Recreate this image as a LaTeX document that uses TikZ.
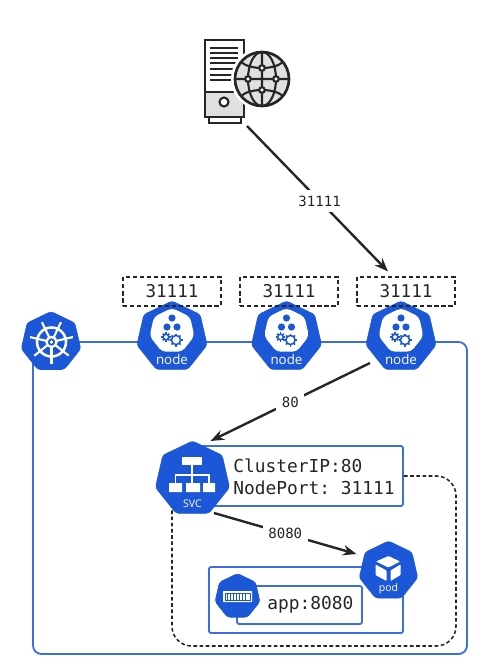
\documentclass[tikz,border=0pt]{standalone}
\usepackage{fontspec}
\setmainfont{Open Sans}
\setmonofont{DejaVu Sans Mono}
\usetikzlibrary{arrows.meta,positioning,calc,shapes.geometric,backgrounds}
\definecolor{kblue}{RGB}{27,87,214}
\definecolor{kline}{RGB}{62,108,226}
\definecolor{kink}{RGB}{38,38,38}
\definecolor{kgray}{RGB}{224,224,224}
\tikzset{
  hepta/.style={regular polygon, regular polygon sides=7, fill=kblue, draw=kblue, rounded corners=2pt, inner sep=0pt, outer sep=0pt},
  wblob/.style={regular polygon, regular polygon sides=7, fill=white, rounded corners=3pt, inner sep=0pt, minimum size=1.15cm},
  iclab/.style={font=\fontsize{9.5}{11}\selectfont, text=white, inner sep=0pt},
  portbox/.style={draw=kink, line width=0.9pt, dash pattern=on 3pt off 2pt, minimum width=2.45cm, minimum height=0.72cm, inner sep=0pt, font=\ttfamily\fontsize{12.5}{15}\selectfont, text=kink},
  bluebox/.style={draw=kline, line width=1.3pt, rounded corners=1.5pt, inner sep=0pt},
  klink/.style={kline, line width=1.3pt},
  farr/.style={-{Stealth[length=3.4mm,width=2.6mm]}, kink, line width=1.7pt},
  flab/.style={fill=white, inner sep=4pt, font=\ttfamily\fontsize{10}{12}\selectfont, text=kink},
  montxt/.style={font=\ttfamily\fontsize{12.7}{15.5}\selectfont, text=kink, inner sep=0pt},
  srvln/.style={kink, line width=1.5pt},
}
\newcommand{\gearic}[3]{%
  \foreach \a in {0,45,...,315} \draw[kblue, line width=1.2pt] (#1,#2) ++(\a:#3) -- ++(\a:1.9);
  \draw[kblue, fill=white, line width=1.1pt] (#1,#2) circle (#3);}
\newcommand{\nodeic}[2]{%
  \node[hepta, minimum size=1.8cm] (#1) at (#2,337) {};
  \begin{scope}[shift={(#2,337)}]
    \node[wblob] at (0,-6) {};
    \fill[kblue] (0,-19) circle (3.6) (-5,-10) circle (3.6) (5,-10) circle (3.6);
    \gearic{-6}{0}{2.8}
    \gearic{4}{3}{4.6}
    \node[iclab] (#1-lab) at (0,22) {node};
  \end{scope}}

\begin{document}
\begin{tikzpicture}[x=0.025cm,y=-0.025cm]
  \useasboundingbox (0,0) rectangle (488,671);

  % server with globe
  \coordinate (srv) at (247,126);
  \draw[srvln, fill=white] (205,40) rectangle (244,117);
  \fill[kgray] (205,92) rectangle (244,117);
  \draw[srvln] (205,92) -- (244,92) (205,40) rectangle (244,117);
  \draw[srvln, fill=white] (224,102) circle (4.5);
  \draw[srvln] (209,117) -- (209,123) -- (241,123) -- (241,117);
  \foreach \yy in {48,53,58,63,69,75,80} \draw[srvln] (210,\yy) -- (238,\yy);
  \fill[white] (262,79) circle (31);
  \draw[srvln, fill=kgray, line width=1.9pt] (262,79) circle (27);
  \draw[srvln] (235,79) -- (289,79) (262,52) -- (262,106) (262,79) ellipse (14 and 27);
  \draw[srvln] (241,62) .. controls (250,70) and (274,70) .. (283,62);
  \draw[srvln] (241,96) .. controls (250,88) and (274,88) .. (283,96);
  \foreach \px/\py in {262/68,248/79,276/79,262/90} \draw[srvln, fill=white] (\px,\py) circle (2.8);

  % cluster row
  \node[hepta, minimum size=1.525cm] (k8s) at (51,342) {};
  \draw[white, line width=1.8pt] (51.5,342) circle (14.5);
  \draw[white, line width=1.6pt] (51.5,342) circle (5);
  \fill[white] (51.5,342) circle (1.8);
  \foreach \a in {90,141.4,...,450} \draw[white, line width=1.5pt] (51.5,342) ++(\a:5) -- ++(\a:17);
  \nodeic{node1}{172}
  \nodeic{node2}{286.5}
  \nodeic{node3}{401}
  \node[portbox] (port1) at (172,291.5) {31111};
  \node[portbox] (port2) at (289,291.5) {31111};
  \node[portbox] (port3) at (406,291.5) {31111};

  % service
  \node[hepta, minimum size=1.9cm] (svc) at (192.5,479) {};
  \begin{scope}[shift={(192.5,479)}]
    \fill[white] (-10.5,-22) rectangle (9.5,-14);
    \fill[white] (-23.5,4) rectangle (-10.5,13) (-6.5,4) rectangle (7.5,13) (10.5,4) rectangle (22.5,13);
    \draw[white, line width=0.9pt] (-0.5,-14) -- (-0.5,4) (-17,4) -- (-17,-4) -- (16.5,-4) -- (16.5,4);
    \node[iclab, font=\fontsize{7.5}{9}\selectfont] (svc-lab) at (0,24.5) {SVC};
  \end{scope}
  \node[montxt, align=left, anchor=west] (svctxt) at (233,477) {ClusterIP:80\\NodePort: 31111};

  % pod
  \node[hepta, minimum size=1.5cm] (pod) at (388.5,571) {};
  \begin{scope}[shift={(388.5,571)}]
    \fill[white, rounded corners=0.5pt] (0,-15) -- (11.5,-9.5) -- (0,-3.5) -- (-12.5,-9.5) -- cycle;
    \fill[white, rounded corners=0.5pt] (-13,-6.5) -- (-2,-0.5) -- (-2,10) -- (-13,4) -- cycle;
    \fill[white, rounded corners=0.5pt] (12,-6.5) -- (2,-0.5) -- (2,10) -- (12,4) -- cycle;
    \node[iclab, font=\fontsize{7.5}{9}\selectfont] (pod-lab) at (0,18) {pod};
  \end{scope}
  \node[hepta, minimum size=1.15cm] (ctr) at (237.5,596.5) {};
  \fill[white, rounded corners=0.5pt] (223,591) rectangle (252,602);
  \draw[kblue, line width=0.7pt] (225,593) rectangle (250,600);
  \foreach \xx in {227.5,230.5,...,248} \draw[kblue, line width=0.5pt] (\xx,593) -- (\xx,600);
  \node[montxt, anchor=west] (apptxt) at (267,605) {app:8080};

  % lines under the icons
  \coordinate (loop-bl) at (33,654);
  \coordinate (loop-br) at (467,654);
  \coordinate (dash-br) at (456,646);
  \coordinate (dash-bl) at (172,646);
  \begin{scope}[on background layer]
    \node[bluebox, minimum width=5.275cm, minimum height=1.5cm] (svcbox) at (297.5,476) {};
    \node[bluebox, minimum width=3.125cm, minimum height=0.95cm] (appbox) at (299.5,605) {};
    \node[bluebox, minimum width=4.85cm, minimum height=1.65cm] (podbox) at (306,600) {};
    \draw[klink] (k8s) -- (node1 |- k8s);
    \draw[klink] (node1 |- k8s) -- (node2 |- k8s);
    \draw[klink] (node2 |- k8s) -- (node3 |- k8s);
    \draw[klink, rounded corners=6pt] (k8s -| loop-bl) -- (loop-bl) -- (loop-br) -- (loop-br |- k8s) -- (node3 |- k8s);
    \draw[kink, line width=1.1pt, dash pattern=on 2.6pt off 1.8pt, rounded corners=14pt] (svcbox.east) -- (dash-br |- svcbox.east) -- (dash-br) -- (dash-bl) -- (dash-bl |- svc);
  \end{scope}

  % traffic arrows
  \draw[farr] (srv) -- ([shift={(-18,-5)}]port3.north) node[flab, pos=0.515] (lab-ext) {31111};
  \draw[farr] ([shift={(-31,26)}]node3.center) -- ([shift={(18,-38)}]svc.center) node[flab, midway] (lab-http) {80};
  \draw[farr] ([shift={(21.5,34)}]svc.center) -- ([shift={(-32,-17)}]pod.center) node[flab, midway] (lab-app) {8080};
\end{tikzpicture}
\end{document}
